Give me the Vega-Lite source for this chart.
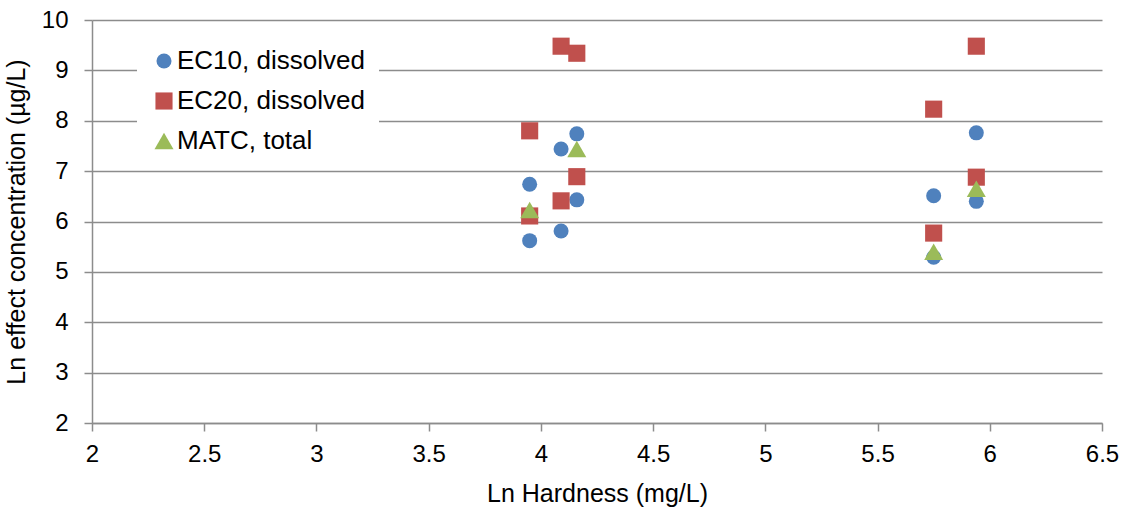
{
  "$schema": "https://vega.github.io/schema/vega-lite/v6.json",
  "width": 1010,
  "height": 403,
  "autosize": {"type": "none"},
  "padding": {"left": 92, "top": 20, "right": 23, "bottom": 94},
  "background": "white",
  "config": {
    "view": {"stroke": null},
    "font": "Liberation Sans"
  },
  "data": {
    "values": [
      {"hardness": 3.95, "conc": 6.74, "series": "EC10, dissolved"},
      {"hardness": 3.95, "conc": 5.62, "series": "EC10, dissolved"},
      {"hardness": 4.09, "conc": 7.44, "series": "EC10, dissolved"},
      {"hardness": 4.09, "conc": 5.81, "series": "EC10, dissolved"},
      {"hardness": 4.16, "conc": 7.74, "series": "EC10, dissolved"},
      {"hardness": 4.16, "conc": 6.43, "series": "EC10, dissolved"},
      {"hardness": 5.75, "conc": 6.51, "series": "EC10, dissolved"},
      {"hardness": 5.75, "conc": 5.29, "series": "EC10, dissolved"},
      {"hardness": 5.94, "conc": 7.76, "series": "EC10, dissolved"},
      {"hardness": 5.94, "conc": 6.40, "series": "EC10, dissolved"},
      {"hardness": 3.95, "conc": 7.80, "series": "EC20, dissolved"},
      {"hardness": 3.95, "conc": 6.11, "series": "EC20, dissolved"},
      {"hardness": 4.09, "conc": 9.48, "series": "EC20, dissolved"},
      {"hardness": 4.09, "conc": 6.41, "series": "EC20, dissolved"},
      {"hardness": 4.16, "conc": 9.34, "series": "EC20, dissolved"},
      {"hardness": 4.16, "conc": 6.89, "series": "EC20, dissolved"},
      {"hardness": 5.75, "conc": 8.23, "series": "EC20, dissolved"},
      {"hardness": 5.75, "conc": 5.77, "series": "EC20, dissolved"},
      {"hardness": 5.94, "conc": 9.48, "series": "EC20, dissolved"},
      {"hardness": 5.94, "conc": 6.88, "series": "EC20, dissolved"},
      {"hardness": 3.95, "conc": 6.23, "series": "MATC, total"},
      {"hardness": 4.16, "conc": 7.44, "series": "MATC, total"},
      {"hardness": 5.75, "conc": 5.40, "series": "MATC, total"},
      {"hardness": 5.94, "conc": 6.65, "series": "MATC, total"}
    ]
  },
  "mark": {"type": "point", "filled": true, "opacity": 1, "strokeWidth": 0},
  "encoding": {
    "x": {
      "field": "hardness",
      "type": "quantitative",
      "scale": {"domain": [2, 6.5], "nice": false, "zero": false},
      "axis": {
        "title": "Ln Hardness (mg/L)",
        "values": [2, 2.5, 3, 3.5, 4, 4.5, 5, 5.5, 6, 6.5],
        "format": "~g",
        "grid": false,
        "domainColor": "#8c8c8c",
        "domainWidth": 1.5,
        "tickColor": "#8c8c8c",
        "tickWidth": 1.5,
        "tickSize": 8,
        "labelFontSize": 24,
        "labelColor": "black",
        "labelPadding": 11,
        "labelFlush": false,
        "titleFontSize": 25,
        "titleFontWeight": "normal",
        "titleColor": "black",
        "titlePadding": 15
      }
    },
    "y": {
      "field": "conc",
      "type": "quantitative",
      "scale": {"domain": [2, 10], "nice": false, "zero": false},
      "axis": {
        "title": "Ln effect concentration (µg/L)",
        "values": [2, 3, 4, 5, 6, 7, 8, 9, 10],
        "format": "d",
        "grid": true,
        "gridColor": "#8c8c8c",
        "gridWidth": 1.5,
        "domainColor": "#8c8c8c",
        "domainWidth": 1.5,
        "tickColor": "#8c8c8c",
        "tickWidth": 1.5,
        "tickSize": 8,
        "labelFontSize": 24,
        "labelColor": "black",
        "labelPadding": 16,
        "labelFlush": false,
        "titleFontSize": 25,
        "titleFontWeight": "normal",
        "titleColor": "black",
        "titlePadding": 12
      }
    },
    "color": {
      "field": "series",
      "type": "nominal",
      "scale": {
        "domain": ["EC10, dissolved", "EC20, dissolved", "MATC, total"],
        "range": ["#4f81bd", "#c0504d", "#9bbb59"]
      },
      "legend": {
        "title": null,
        "orient": "none",
        "legendX": 45,
        "legendY": 14,
        "fillColor": "white",
        "padding": 14,
        "labelFontSize": 26,
        "labelColor": "black",
        "labelOffset": 0,
        "labelLimit": 400,
        "symbolSize": 230,
        "rowPadding": 14,
        "symbolStrokeWidth": 0,
        "symbolOpacity": 1
      }
    },
    "shape": {
      "field": "series",
      "type": "nominal",
      "scale": {
        "domain": ["EC10, dissolved", "EC20, dissolved", "MATC, total"],
        "range": ["circle", "square", "triangle-up"]
      }
    },
    "size": {
      "field": "series",
      "type": "nominal",
      "scale": {
        "domain": ["EC10, dissolved", "EC20, dissolved", "MATC, total"],
        "range": [225, 361, 400]
      },
      "legend": null
    }
  }
}
